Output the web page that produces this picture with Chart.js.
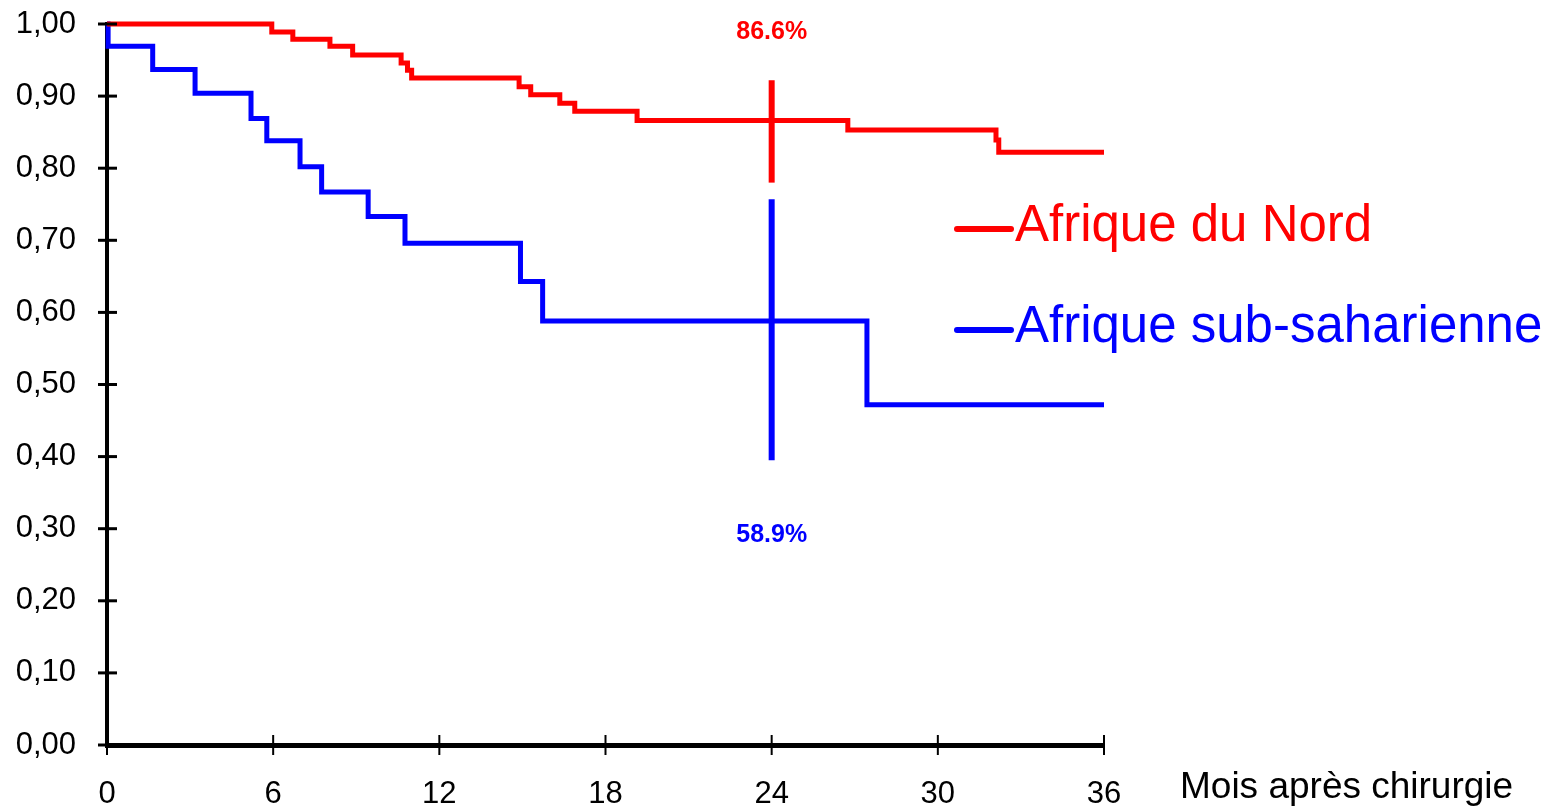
<!DOCTYPE html>
<html lang="fr">
<head>
    <meta charset="UTF-8">
    <title>Survie - Afrique du Nord / Afrique sub-saharienne</title>
    <script src="https://cdn.jsdelivr.net/npm/chart.js"></script>
    <style>
        html, body { margin: 0; padding: 0; background: #fff; }
        #wrap { width: 1555px; height: 810px; }
    </style>
</head>
<body>
    <div id="wrap"><canvas id="kmChart"></canvas></div>

    <script>
        // Kaplan-Meier steps (months, survival)
        const nordTimes = [0, 5.95, 6.71, 8.05, 8.87, 10.62, 10.85, 11.0, 14.88, 15.3, 16.35, 16.89, 19.14, 26.75, 32.1, 32.2, 36];
        const nordSurv  = [1.0, 0.989, 0.979, 0.969, 0.957, 0.946, 0.936, 0.925, 0.913, 0.902, 0.890, 0.879, 0.866, 0.853, 0.839, 0.822, 0.822];

        const subTimes = [0, 0.04, 1.65, 3.18, 5.2, 5.77, 6.97, 7.75, 9.43, 10.76, 14.93, 15.73, 27.44, 36];
        const subSurv  = [1.0, 0.969, 0.937, 0.904, 0.869, 0.838, 0.802, 0.767, 0.733, 0.696, 0.643, 0.588, 0.472, 0.472];

        // confidence interval bars at 24 months
        const ciTime = 24;
        const nordCI = [0.780, 0.922];
        const subCI  = [0.395, 0.757];
        const ciLabels = ["86.6%", "58.9%"];

        const seriesNames = ["Afrique du Nord", "Afrique sub-saharienne"];
        const xTicks = [0, 6, 12, 18, 24, 30, 36];
        const yTicks = [0, 0.1, 0.2, 0.3, 0.4, 0.5, 0.6, 0.7, 0.8, 0.9, 1.0];
        const xTitle = "Mois après chirurgie";

        const RED = "#ff0000";
        const BLUE = "#0000ff";
        const FONT = "'Liberation Sans', Arial, sans-serif";

        const toPoints = (xs, ys) => xs.map((x, i) => ({ x: x, y: ys[i] }));

        // ticks crossing the axes, axis title, CI labels and the legend
        const extras = {
            id: "extras",
            afterDraw(chart) {
                const ctx = chart.ctx;
                const xs = chart.scales.x, ys = chart.scales.y;
                const area = chart.chartArea;
                ctx.save();
                ctx.strokeStyle = "#000";
                ctx.lineWidth = 3;
                yTicks.forEach(v => {
                    const py = ys.getPixelForValue(v);
                    ctx.beginPath();
                    ctx.moveTo(area.left - 9, py);
                    ctx.lineTo(area.left + 10, py);
                    ctx.stroke();
                });
                ctx.lineWidth = 2;
                xTicks.forEach(v => {
                    const px = xs.getPixelForValue(v);
                    ctx.beginPath();
                    ctx.moveTo(px, area.bottom - 10);
                    ctx.lineTo(px, area.bottom + 10);
                    ctx.stroke();
                });

                // axis title right of the x axis
                ctx.fillStyle = "#000";
                ctx.font = "37px " + FONT;
                ctx.textAlign = "left";
                ctx.textBaseline = "middle";
                ctx.fillText(xTitle, area.right + 76, area.bottom + 43);

                // CI percentages
                const cx = xs.getPixelForValue(ciTime);
                ctx.font = "bold 25px " + FONT;
                ctx.textAlign = "center";
                ctx.fillStyle = RED;
                ctx.fillText(ciLabels[0], cx, ys.getPixelForValue(nordCI[1]) - 48);
                ctx.fillStyle = BLUE;
                ctx.fillText(ciLabels[1], cx, ys.getPixelForValue(subCI[0]) + 75);

                // legend
                const legendY = [229, 330];
                [RED, BLUE].forEach((col, i) => {
                    ctx.strokeStyle = col;
                    ctx.fillStyle = col;
                    ctx.lineWidth = 6;
                    ctx.lineCap = "round";
                    ctx.beginPath();
                    ctx.moveTo(area.right - 147, legendY[i]);
                    ctx.lineTo(area.right - 93, legendY[i]);
                    ctx.stroke();
                    ctx.font = "51px " + FONT;
                    ctx.textAlign = "left";
                    ctx.fillText(seriesNames[i], area.right - 89, legendY[i] - 2);
                });
                ctx.restore();
            }
        };

        const ctx = document.getElementById("kmChart").getContext("2d");
        new Chart(ctx, {
            type: "line",
            data: {
                datasets: [
                    { label: seriesNames[0], data: toPoints(nordTimes, nordSurv), borderColor: RED, borderWidth: 5, stepped: "before", pointRadius: 0, clip: false },
                    { label: seriesNames[1], data: toPoints(subTimes, subSurv), borderColor: BLUE, borderWidth: 5, stepped: "before", pointRadius: 0, clip: false },
                    { label: "IC Nord", data: toPoints([ciTime, ciTime], nordCI), borderColor: RED, borderWidth: 6, pointRadius: 0, borderCapStyle: "butt", clip: false },
                    { label: "IC sub", data: toPoints([ciTime, ciTime], subCI), borderColor: BLUE, borderWidth: 6, pointRadius: 0, borderCapStyle: "butt", clip: false }
                ]
            },
            options: {
                responsive: true,
                maintainAspectRatio: false,
                animation: false,
                layout: { padding: { top: 24, right: 451, left: 0, bottom: 0 } },
                plugins: { legend: { display: false }, tooltip: { enabled: false } },
                scales: {
                    x: {
                        type: "linear",
                        min: 0, max: 36,
                        afterBuildTicks: s => { s.ticks = xTicks.map(v => ({ value: v })); },
                        afterFit: s => { s.height = 65; s.paddingLeft = 0; s.paddingRight = 0; },
                        grid: { display: false, drawTicks: false },
                        border: { color: "#000", width: 5 },
                        ticks: { color: "#000", font: { family: FONT, size: 31 }, padding: 31, maxRotation: 0 }
                    },
                    y: {
                        min: 0, max: 1,
                        afterBuildTicks: s => { s.ticks = yTicks.map(v => ({ value: v })); },
                        afterFit: s => { s.width = 107; s.paddingTop = 0; s.paddingBottom = 0; },
                        grid: { display: false, drawTicks: false },
                        border: { color: "#000", width: 4 },
                        ticks: {
                            color: "#000",
                            font: { family: FONT, size: 31 },
                            padding: 31,
                            callback: v => v.toFixed(2).replace(".", ",")
                        }
                    }
                }
            },
            plugins: [extras]
        });
    </script>
</body>
</html>
